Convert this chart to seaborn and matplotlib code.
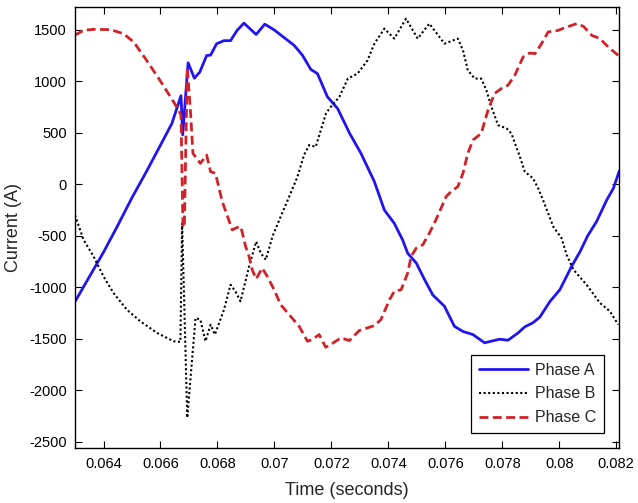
import pandas as pd
import matplotlib.pyplot as plt
import seaborn as sns

# Phase currents (time in s, current in A)
t_a = [0.06300, 0.06350, 0.06400, 0.06450, 0.06500, 0.06550, 0.06600, 0.06640, 0.06672,
       0.06678, 0.06697, 0.06719, 0.06738, 0.06762, 0.06776, 0.06797, 0.06823, 0.06846,
       0.06869, 0.06893, 0.06936, 0.06966, 0.06999, 0.07034, 0.07069, 0.07098, 0.07128,
       0.07151, 0.07186, 0.07222, 0.07264, 0.07304, 0.07351, 0.07386, 0.07421, 0.07450,
       0.07468, 0.07498, 0.07527, 0.07556, 0.07597, 0.07632, 0.07662, 0.07697, 0.07738,
       0.07791, 0.07820, 0.07855, 0.07879, 0.07908, 0.07932, 0.07967, 0.08002, 0.08043,
       0.08073, 0.08100, 0.08131, 0.08167, 0.08190, 0.08211]
i_a = [-1140, -900, -660, -400, -130, 120, 380, 590, 860,
       480, 1180, 1030, 1090, 1250, 1255, 1365, 1395, 1395,
       1495, 1565, 1455, 1555, 1500, 1425, 1350, 1255, 1115,
       1075, 850, 735, 495, 300, 25, -250, -380, -540,
       -670, -765, -925, -1075, -1185, -1380, -1430, -1460, -1540,
       -1505, -1515, -1445, -1385, -1345, -1290, -1140, -1025, -800,
       -655, -500, -362, -152, -40, 130]

t_b = [0.06300, 0.06330, 0.06365, 0.06400, 0.06435, 0.06482, 0.06529, 0.06588, 0.06646,
       0.06670, 0.06676, 0.06694, 0.06723, 0.06740, 0.06758, 0.06776, 0.06791, 0.06823,
       0.06846, 0.06863, 0.06881, 0.06911, 0.06936, 0.06952, 0.06970, 0.06993, 0.07022,
       0.07057, 0.07081, 0.07104, 0.07122, 0.07145, 0.07163, 0.07181, 0.07198, 0.07228,
       0.07258, 0.07292, 0.07327, 0.07351, 0.07386, 0.07421, 0.07462, 0.07503, 0.07544,
       0.07597, 0.07644, 0.07662, 0.07679, 0.07703, 0.07726, 0.07744, 0.07762, 0.07785,
       0.07815, 0.07832, 0.07862, 0.07879, 0.07908, 0.07926, 0.07943, 0.07961, 0.07979,
       0.08008, 0.08026, 0.08050, 0.08096, 0.08143, 0.08178, 0.08207]
i_b = [-300, -540, -700, -895, -1056, -1218, -1331, -1444, -1525,
       -1531, -380, -2268, -1299, -1315, -1525, -1364, -1460, -1218,
       -976, -1040, -1138, -798, -556, -669, -733, -508, -314,
       -87, 74, 284, 381, 364, 526, 688, 752, 849,
       1027, 1075, 1204, 1366, 1512, 1415, 1609, 1415, 1560,
       1366, 1415, 1301, 1108, 1027, 1027, 914, 752, 575,
       543, 494, 267, 122, 58, -39, -152, -281, -411,
       -523, -685, -830, -976, -1153, -1234, -1363]

t_c = [0.06299, 0.06330, 0.06365, 0.06424, 0.06470, 0.06506, 0.06547, 0.06594, 0.06635,
       0.06664, 0.06672, 0.06679, 0.06684, 0.06694, 0.06705, 0.06714, 0.06740, 0.06762,
       0.06776, 0.06793, 0.06817, 0.06852, 0.06869, 0.06882, 0.06899, 0.06911, 0.06922,
       0.06936, 0.06957, 0.06975, 0.06999, 0.07022, 0.07057, 0.07087, 0.07116, 0.07133,
       0.07157, 0.07180, 0.07198, 0.07233, 0.07263, 0.07298, 0.07351, 0.07374, 0.07404,
       0.07421, 0.07445, 0.07468, 0.07480, 0.07498, 0.07521, 0.07544, 0.07567, 0.07603,
       0.07620, 0.07644, 0.07662, 0.07679, 0.07697, 0.07726, 0.07750, 0.07773, 0.07797,
       0.07820, 0.07844, 0.07873, 0.07897, 0.07915, 0.07938, 0.07961, 0.07996, 0.08026,
       0.08061, 0.08085, 0.08114, 0.08143, 0.08172, 0.08211]
i_c = [1447, 1495, 1505, 1502, 1463, 1382, 1221, 1027, 849,
       720, 672, -420, -380, 1140, 720, 300, 203, 284,
       122, 107, -169, -443, -420, -411, -605, -701, -830,
       -920, -814, -895, -1024, -1170, -1283, -1380, -1525, -1509,
       -1460, -1583, -1557, -1492, -1518, -1421, -1373, -1315, -1121,
       -1040, -1024, -862, -701, -620, -588, -475, -346, -120,
       -72, -23, 107, 300, 429, 494, 720, 882, 930,
       962, 1059, 1236, 1275, 1269, 1366, 1479, 1495, 1527,
       1560, 1534, 1447, 1415, 1333, 1243]

phase_labels = ['Phase A', 'Phase B', 'Phase C']

df_a = pd.DataFrame({'time': t_a, 'current': i_a})
df_b = pd.DataFrame({'time': t_b, 'current': i_b})
df_c = pd.DataFrame({'time': t_c, 'current': i_c})

sns.set_style('ticks')
plt.rcParams['font.family'] = ['Liberation Sans', 'DejaVu Sans']
plt.rcParams['axes.unicode_minus'] = False

fig = plt.figure(figsize=(6.38, 5.03), dpi=100)
ax = fig.add_axes([0.1176, 0.1087, 0.8527, 0.878])

sns.lineplot(data=df_a, x='time', y='current', ax=ax, sort=False, estimator=None,
             color='#2214f0', linewidth=2.0, label=phase_labels[0])
sns.lineplot(data=df_b, x='time', y='current', ax=ax, sort=False, estimator=None,
             color='black', linewidth=1.5, linestyle=(0, (1, 1.2)), label=phase_labels[1])
sns.lineplot(data=df_c, x='time', y='current', ax=ax, sort=False, estimator=None,
             color='#d02228', linewidth=2.0, linestyle=(0, (3.2, 1.6)), label=phase_labels[2])

ax.set_xlim(0.063, 0.0821)
ax.set_ylim(-2565, 1725)
ax.set_xticks([0.064, 0.066, 0.068, 0.07, 0.072, 0.074, 0.076, 0.078, 0.08, 0.082])
ax.set_xticklabels(['0.064', '0.066', '0.068', '0.07', '0.072', '0.074', '0.076', '0.078', '0.08', '0.082'])
ax.set_yticks(range(-2500, 1501, 500))
ax.tick_params(direction='in', top=True, right=True, length=5, width=0.8,
               labelsize=10.5, colors='black', pad=6)
for s in ax.spines.values():
    s.set_color('black')
    s.set_linewidth(1.0)

ax.set_xlabel('Time (seconds)', fontsize=13, labelpad=8)
ax.set_ylabel('Current (A)', fontsize=13, labelpad=5)

leg = ax.legend(loc='lower right', fontsize=11.5, fancybox=False, framealpha=1,
                edgecolor='black', handlelength=3.1, handletextpad=0.4,
                labelspacing=0.55, borderpad=0.5, borderaxespad=0.95)
leg.get_frame().set_linewidth(0.9)

fig.savefig('out.png', dpi=100)
